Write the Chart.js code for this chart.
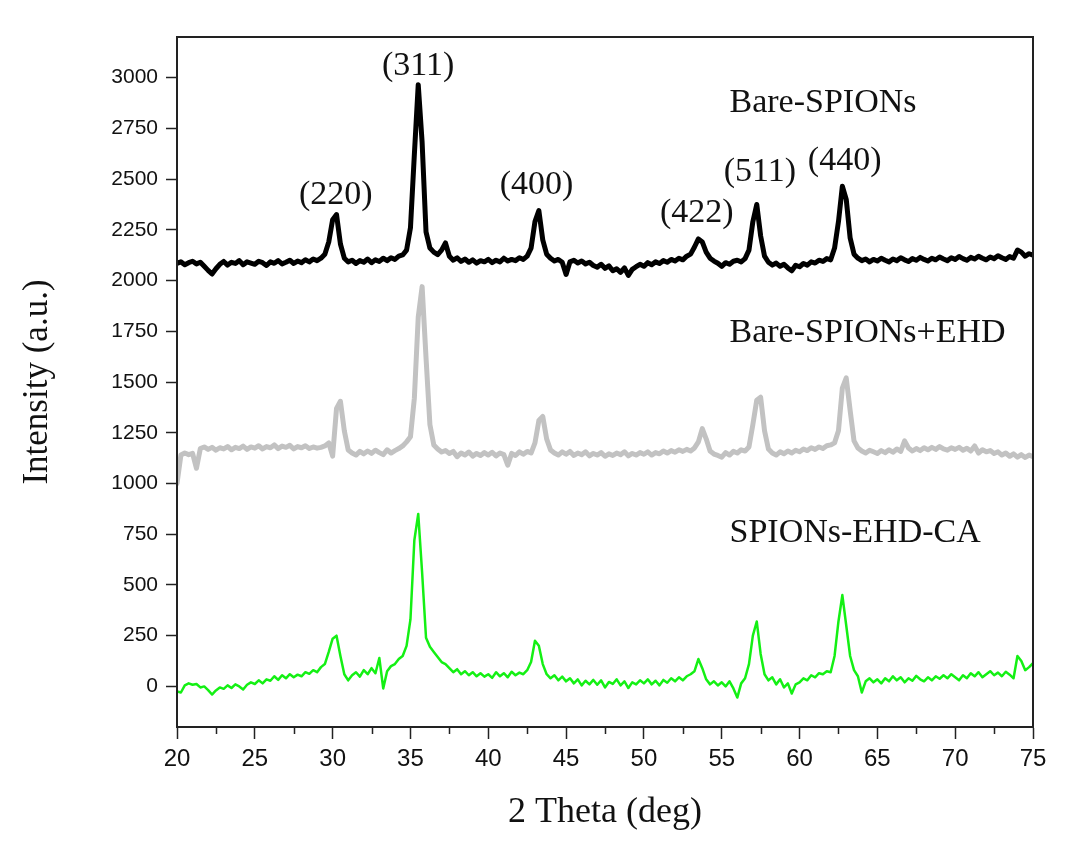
<!DOCTYPE html>
<html>
<head>
<meta charset="utf-8">
<title>XRD</title>
<script src="https://cdn.jsdelivr.net/npm/chart.js@4.4.1/dist/chart.umd.min.js"></script>
<style>
  body { margin: 0; background: #fff; }
  #box { width: 1068px; height: 850px; }
</style>
</head>
<body>
<div id="box"><canvas id="xrd" width="1068" height="850"></canvas></div>
<script>
// 2 theta from 20 to 75, one reading every 0.25 deg
const thetaStart = 20
const thetaStep = 0.25

const bareSpions = [
  2085, 2092, 2078, 2088, 2095, 2082, 2090, 2070, 2050, 2032, 2058, 2080, 2094, 2076, 2090, 2084, 2098, 2078, 2092, 2086,
  2080, 2095, 2088, 2074, 2092, 2085, 2098, 2082, 2090, 2100, 2084, 2096, 2088, 2102, 2092, 2106, 2098, 2110, 2130, 2190,
  2300, 2325, 2180, 2110, 2092, 2100, 2084, 2098, 2090, 2106, 2088, 2102, 2094, 2110, 2098, 2112, 2104, 2120, 2126, 2150,
  2260, 2620, 2965, 2680, 2240, 2160, 2140, 2128, 2150, 2185, 2120, 2100, 2112, 2094, 2106, 2090, 2102, 2086, 2098, 2092,
  2104, 2088, 2100, 2092, 2110, 2096, 2104, 2098, 2112, 2104, 2120, 2160, 2290, 2345, 2200, 2130, 2110, 2096, 2104, 2090,
  2030, 2092, 2100, 2086, 2096, 2082, 2090, 2074, 2066, 2080, 2060, 2072, 2048, 2058, 2040, 2062, 2025, 2055, 2068, 2080,
  2070, 2088, 2078, 2092, 2084, 2098, 2090, 2104, 2096, 2110, 2102, 2120, 2130, 2165, 2205, 2190, 2140, 2110, 2096, 2085,
  2070, 2088, 2080, 2095, 2100, 2092, 2108, 2150, 2290, 2375, 2220, 2120, 2090, 2076, 2086, 2070, 2080, 2062, 2048, 2075,
  2068, 2084, 2076, 2092, 2086, 2100, 2094, 2108, 2102, 2160, 2290, 2465, 2400, 2210, 2130, 2110, 2098, 2106, 2092, 2104,
  2096, 2110, 2100, 2092, 2106, 2098, 2112, 2102, 2094, 2108, 2100, 2114, 2104, 2096, 2110, 2102, 2116, 2106, 2098, 2112,
  2104, 2118, 2108, 2100, 2114, 2106, 2120, 2110, 2102, 2116, 2108, 2122, 2112, 2104, 2118, 2110, 2150, 2140, 2120, 2132,
  2125
]

const bareSpionsEhd = [
  1000, 1140, 1150, 1142, 1148, 1075, 1172, 1180, 1168, 1178, 1164, 1176, 1170, 1182, 1166, 1178, 1172, 1184, 1168, 1180,
  1174, 1186, 1170, 1182, 1176, 1190, 1172, 1184, 1178, 1188, 1170, 1182, 1176, 1186, 1172, 1180, 1174, 1178, 1185, 1200,
  1135, 1370, 1405, 1260, 1165, 1150, 1140, 1158, 1146, 1160, 1148, 1164, 1152, 1142, 1166, 1150, 1162, 1172, 1185, 1205,
  1230, 1420, 1820, 1970, 1620, 1290, 1190, 1170, 1155, 1162, 1148, 1158, 1132, 1150, 1140, 1155, 1135, 1148, 1138, 1152,
  1140, 1154, 1136, 1150, 1142, 1090, 1148, 1138, 1156, 1144, 1158, 1150, 1200, 1310, 1330, 1220, 1165, 1150, 1140, 1156,
  1144, 1158, 1138, 1150, 1142, 1156, 1136, 1148, 1140, 1152, 1134, 1146, 1138, 1150, 1142, 1156, 1136, 1148, 1140, 1152,
  1144, 1156, 1140, 1152, 1146, 1160, 1150, 1162, 1154, 1166, 1158, 1168, 1160, 1175, 1205, 1270, 1220, 1160, 1145, 1138,
  1130, 1152, 1140, 1158, 1150, 1166, 1160, 1180, 1290, 1410, 1425, 1260, 1170, 1150, 1140, 1156, 1146, 1160, 1150, 1164,
  1156, 1170, 1162, 1176, 1168, 1180, 1172, 1186, 1190, 1200, 1260, 1470, 1520, 1360, 1210, 1175, 1160, 1150, 1164, 1156,
  1148, 1162, 1152, 1166, 1154, 1170, 1158, 1210, 1175, 1160, 1172, 1162, 1176, 1166, 1178, 1168, 1182, 1170, 1164, 1176,
  1168, 1178, 1164, 1174, 1160, 1185, 1150, 1166, 1156, 1162, 1148, 1156, 1140, 1150, 1134, 1146, 1130, 1142, 1128, 1140,
  1132
]

const spionsEhdCa = [
  -25, -30, 5, 15, 8, 12, -5, 0, -18, -40, -20, -5, -12, 5, -8, 10, 0, -15, 8, 20,
  12, 30, 15, 35, 28, 50, 32, 55, 40, 60, 45, 58, 50, 70, 62, 80, 70, 95, 110, 170,
  235, 250, 150, 60, 30, 55, 70, 48, 80, 60, 90, 65, 140, -10, 75, 100, 110, 135, 150, 200,
  330, 720, 850, 560, 240, 195, 170, 145, 120, 110, 90, 70, 85, 60, 75, 55, 70, 50, 65, 48,
  60, 42, 70, 50, 65, 45, 72, 55, 68, 60, 80, 120, 225, 200, 110, 60, 40, 55, 30, 48,
  25, 40, 15, 35, 5, 28, 10, 32, 8, 30, -5, 22, 12, 35, 5, 25, -8, 20, 10, 30,
  15, 35, 10, 28, 5, 32, 18, 40, 25, 45, 30, 50, 60, 75, 135, 90, 35, 10, 25, 5,
  20, 0, 25, -10, -55, 15, 40, 110, 250, 320, 160, 60, 30, 45, 10, 35, -5, 15, -35, 10,
  20, 40, 30, 55, 45, 65, 60, 75, 70, 150, 320, 450, 300, 150, 80, 50, -30, 25, 40, 20,
  35, 15, 40, 25, 50, 30, 45, 20, 40, 28, 52, 35, 25, 45, 30, 50, 38, 55, 40, 60,
  45, 30, 55, 40, 65, 50, 70, 45, 60, 75, 55, 68, 50, 72, 58, 40, 150, 125, 80, 95,
  115
]

const xTicks = [20, 25, 30, 35, 40, 45, 50, 55, 60, 65, 70, 75]
const xMinorTicks = [22.5, 27.5, 32.5, 37.5, 42.5, 47.5, 52.5, 57.5, 62.5, 67.5, 72.5]
const yTicks = [0, 250, 500, 750, 1000, 1250, 1500, 1750, 2000, 2250, 2500, 2750, 3000]

const peakLabels = ['(220)', '(311)', '(400)', '(422)', '(511)', '(440)']
const peakX = [30.2, 35.5, 43.1, 53.4, 57.45, 62.9]
const peakY = [2419, 3059, 2468, 2330, 2532, 2591]

const sampleNames = ['Bare-SPIONs', 'Bare-SPIONs+EHD', 'SPIONs-EHD-CA']
const sampleX = 55.5
const sampleY = [2872, 1739, 754]

const serif = "'Liberation Serif', 'Times New Roman', serif"
const sans = "'Liberation Sans', Arial, sans-serif"

function toPoints(values) {
    return values.map((v, i) => ({ x: thetaStart + i * thetaStep, y: v }))
}

const extras = {
    id: 'extras',
    afterDatasetsDraw(chart) {
        const ctx = chart.ctx
        const area = chart.chartArea
        const x = chart.scales.x
        const y = chart.scales.y
        ctx.save()
        // frame
        ctx.strokeStyle = '#222'
        ctx.lineWidth = 2
        ctx.strokeRect(area.left, area.top, area.right - area.left, area.bottom - area.top)
        // minor ticks
        ctx.beginPath()
        xMinorTicks.forEach(t => {
            const px = Math.round(x.getPixelForValue(t)) + 0.5
            ctx.moveTo(px, area.bottom)
            ctx.lineTo(px, area.bottom + 7)
        })
        ctx.lineWidth = 1.5
        ctx.stroke()
        // texts
        ctx.fillStyle = '#111'
        ctx.font = '34px ' + serif
        ctx.textBaseline = 'middle'
        ctx.textAlign = 'center'
        peakLabels.forEach((t, i) => {
            ctx.fillText(t, x.getPixelForValue(peakX[i]), y.getPixelForValue(peakY[i]))
        })
        ctx.textAlign = 'left'
        sampleNames.forEach((t, i) => {
            ctx.fillText(t, x.getPixelForValue(sampleX), y.getPixelForValue(sampleY[i]))
        })
        ctx.restore()
    }
}

const grafico = new Chart(document.getElementById('xrd'), {
    type: 'line',
    data: {
        datasets: [{
            label: 'Bare-SPIONs',
            data: toPoints(bareSpions),
            borderColor: '#000',
            borderWidth: 5
        }, {
            label: 'Bare-SPIONs+EHD',
            data: toPoints(bareSpionsEhd),
            borderColor: '#c2c2c2',
            borderWidth: 5
        }, {
            label: 'SPIONs-EHD-CA',
            data: toPoints(spionsEhdCa),
            borderColor: '#14f014',
            borderWidth: 2.5
        }]
    },
    options: {
        responsive: false,
        animation: false,
        events: [],
        layout: { padding: { top: 37, right: 35, left: 0, bottom: 0 } },
        elements: {
            point: { radius: 0 },
            line: { tension: 0, borderJoinStyle: 'round', borderCapStyle: 'round' }
        },
        plugins: {
            legend: { display: false },
            tooltip: { enabled: false }
        },
        scales: {
            x: {
                type: 'linear',
                min: 20,
                max: 75,
                afterBuildTicks: s => { s.ticks = xTicks.map(v => ({ value: v })) },
                afterFit: s => { s.height = 123 },
                border: { display: true, color: '#222', width: 2 },
                grid: { drawOnChartArea: false, drawTicks: true, tickLength: 12, tickColor: '#222', tickWidth: 1.5 },
                ticks: {
                    color: '#111',
                    font: { family: sans, size: 24 },
                    padding: 6,
                    maxRotation: 0,
                    autoSkip: false,
                    callback: v => String(v)
                },
                title: {
                    display: true,
                    text: '2 Theta (deg)',
                    color: '#111',
                    font: { family: serif, size: 36, lineHeight: 1.2 },
                    padding: { top: 0, bottom: 16 }
                }
            },
            y: {
                min: -200,
                max: 3200,
                afterBuildTicks: s => { s.ticks = yTicks.map(v => ({ value: v })) },
                afterFit: s => { s.width = 177 },
                border: { display: true, color: '#222', width: 2 },
                grid: { drawOnChartArea: false, drawTicks: true, tickLength: 11, tickColor: '#222', tickWidth: 1.5 },
                ticks: {
                    color: '#111',
                    font: { family: sans, size: 21 },
                    padding: 8,
                    autoSkip: false,
                    callback: v => String(v)
                },
                title: {
                    display: true,
                    text: 'Intensity (a.u.)',
                    color: '#111',
                    font: { family: serif, size: 35, lineHeight: 1.2 },
                    padding: { top: 17, bottom: 0 }
                }
            }
        }
    },
    plugins: [extras]
});
</script>
</body>
</html>
